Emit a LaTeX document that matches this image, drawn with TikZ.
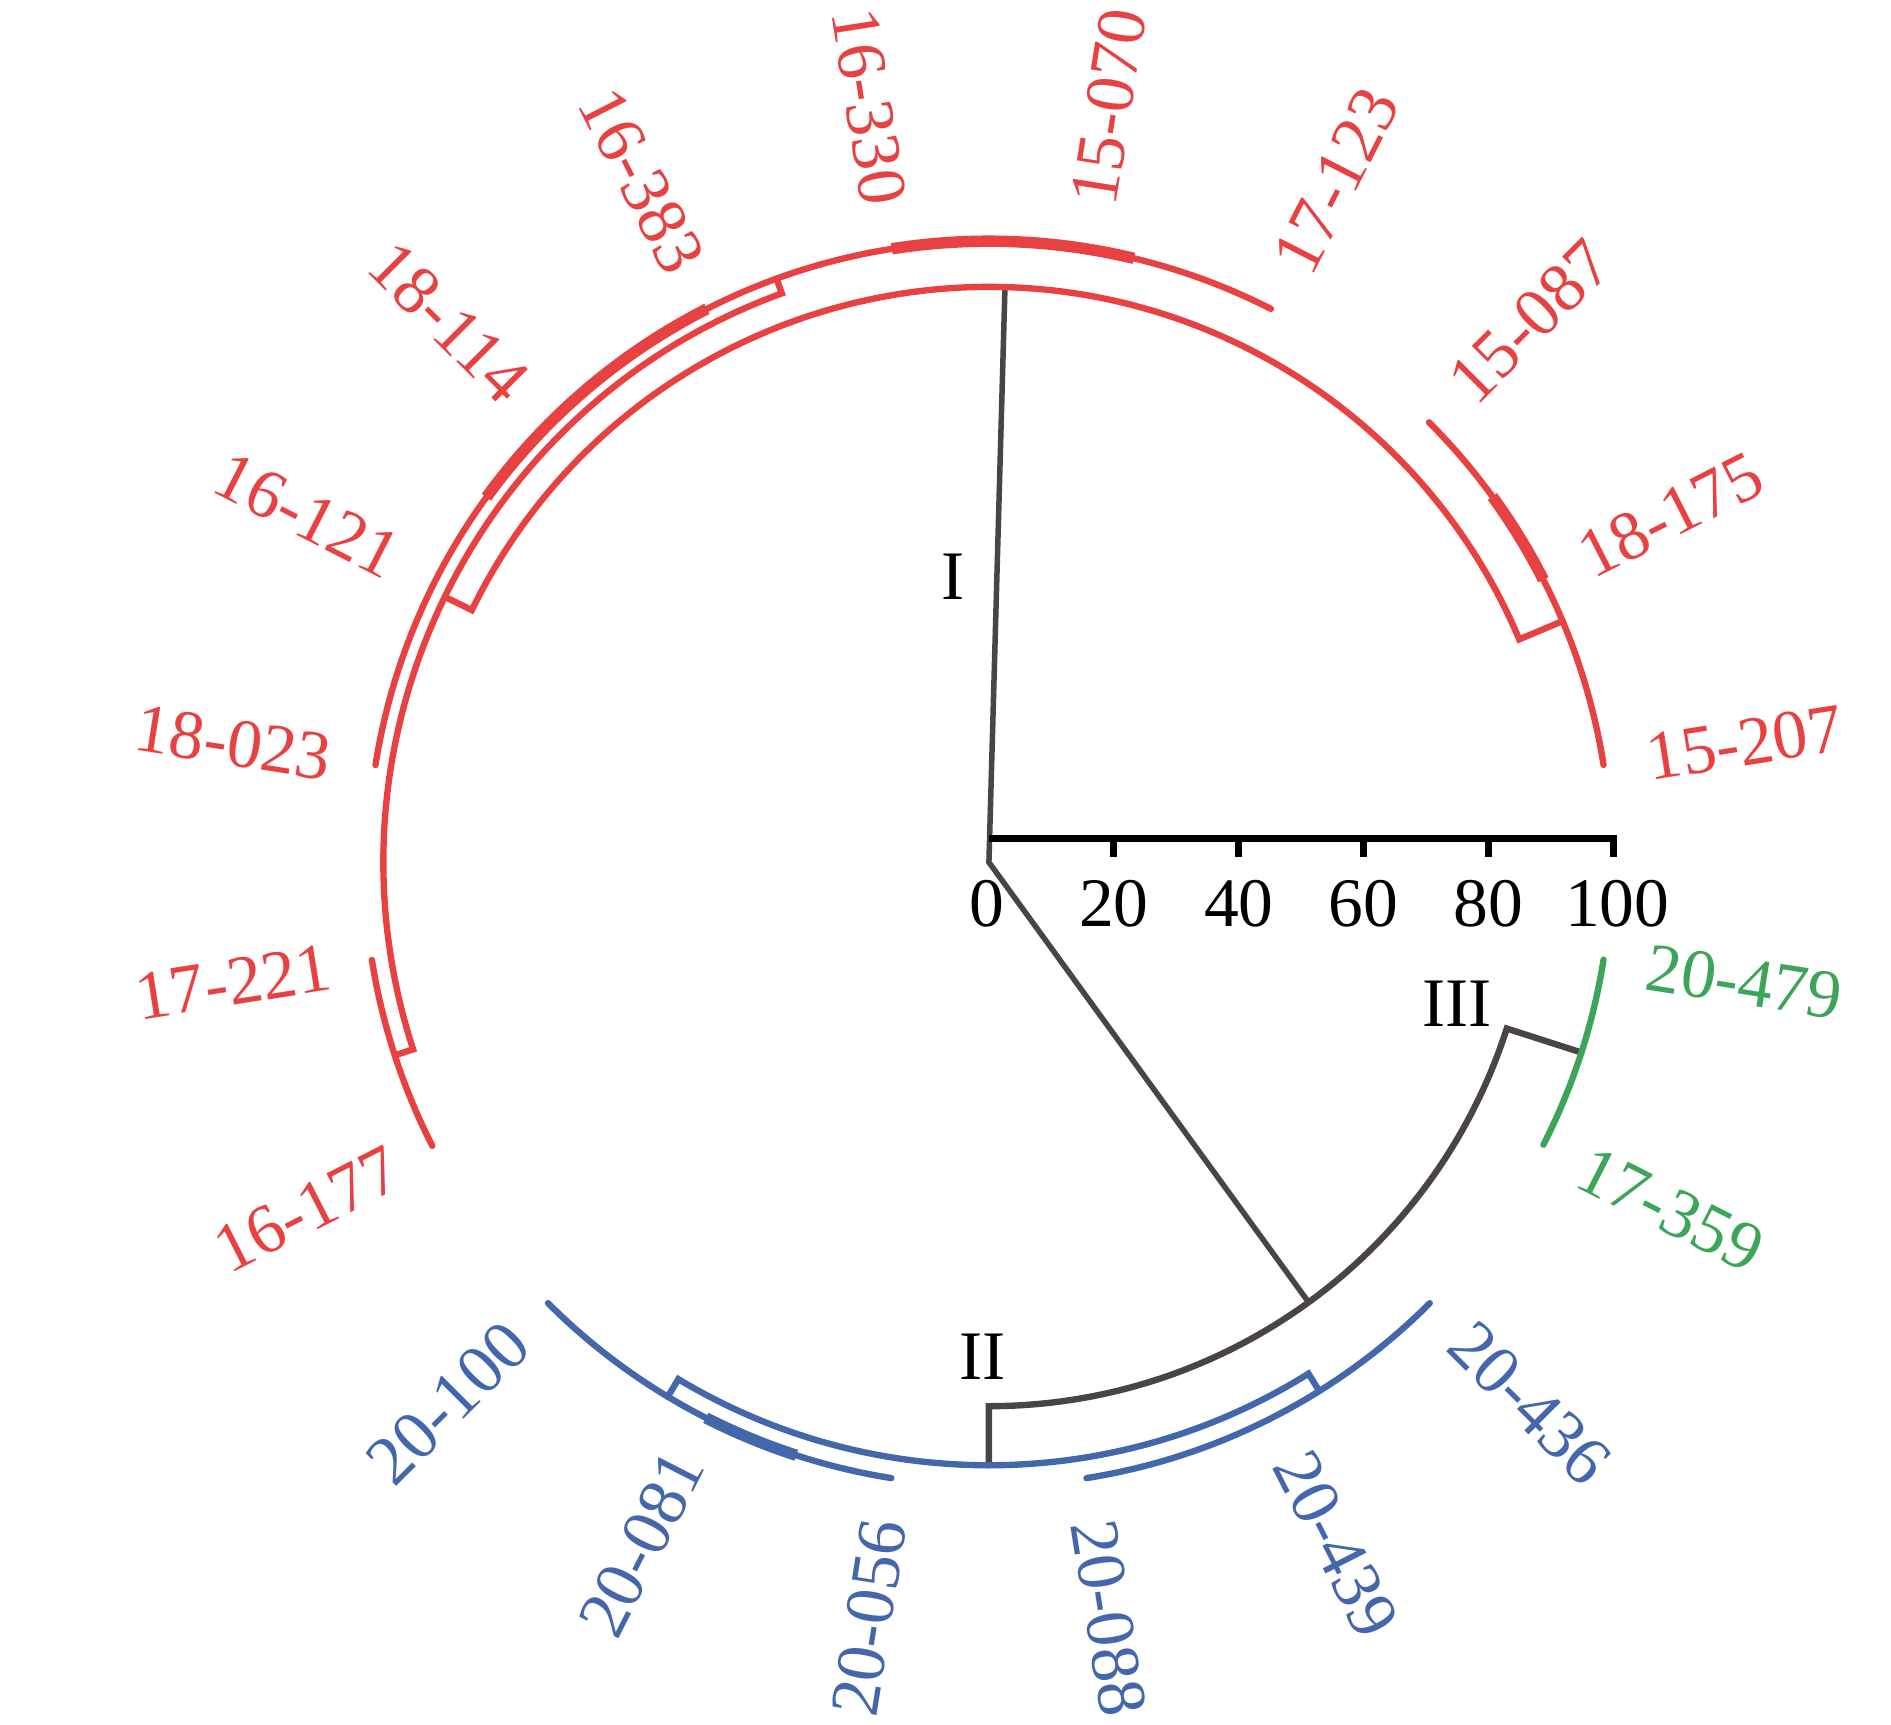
\documentclass[tikz,border=0pt]{standalone}
\usepackage{fontspec}
\setmainfont{Liberation Serif}

\definecolor{clred}{RGB}{232,65,66}
\definecolor{clblue}{RGB}{68,102,170}
\definecolor{clgreen}{RGB}{60,165,90}
\definecolor{clgray}{RGB}{74,69,67}
\newcommand{\labfont}{\fontsize{16.4}{19}\selectfont}

\begin{document}
\begin{tikzpicture}[
  branch/.style={line width=1.5pt, line cap=round},
  fused/.style={line width=2.7pt, line cap=butt},
  leaf/.style={inner sep=0pt, font=\labfont},
  leafR/.style={leaf, anchor=west},
  leafL/.style={leaf, anchor=east},
  scalebar/.style={line width=1.7pt},
  scalenum/.style={inner sep=0pt, font=\labfont},
  roman/.style={inner sep=0pt, font=\labfont}
]
\useasboundingbox (-8.20,-7.15) rectangle (7.48,7.15);

% tree nodes
\coordinate (root) at (0,0);
\coordinate (nI) at (88.4:4.77);
\coordinate (nX) at (-54:4.51);

% root and clusters II, III
\draw[branch, clgray, line width=1.3pt, line cap=butt] (nI) -- (root) -- (nX);
\draw[branch, clgray] (-90:5.00) -- (-90:4.51) arc[start angle=-90, end angle=-17.8, radius=4.51] -- (-17.8:5.16);

% cluster I
\draw[branch, clred] (154:5.02) -- (154:4.77) arc[start angle=154, end angle=22.8, radius=4.77] -- (22.8:5.16);
\draw[branch, clred] (45:5.16) arc[start angle=45, end angle=9, radius=5.16];
\draw[fused, clred] (36:5.16) arc[start angle=36, end angle=27, radius=5.16];
\draw[branch, clred] (110:5.15) -- (110:5.02) arc[start angle=110, end angle=198, radius=5.02] -- (198:5.18);
\draw[branch, clred] (63:5.15) arc[start angle=63, end angle=171, radius=5.15];
\draw[fused, clred] (76.5:5.15) arc[start angle=76.5, end angle=99, radius=5.15];
\draw[fused, clred] (117:5.15) arc[start angle=117, end angle=144, radius=5.15];
\draw[branch, clred] (189:5.18) arc[start angle=189, end angle=207, radius=5.18];

% cluster II
\draw[branch, clblue] (-121:5.17) -- (-121:5.00) arc[start angle=-121, end angle=-58, radius=5.00] -- (-58:5.17);
\draw[branch, clblue] (-135:5.17) arc[start angle=-135, end angle=-99, radius=5.17];
\draw[fused, clblue] (-117:5.17) arc[start angle=-117, end angle=-108, radius=5.17];
\draw[branch, clblue] (-81:5.17) arc[start angle=-81, end angle=-45, radius=5.17];

% cluster III
\draw[branch, clgreen] (-9:5.16) arc[start angle=-9, end angle=-27, radius=5.16];

% leaf labels
\node[leafR, rotate=9, text=clred] (l15207) at (9:5.52) {15-207};
\node[leafR, rotate=27, text=clred] (l18175) at (27:5.52) {18-175};
\node[leafR, rotate=45, text=clred] (l15087) at (45:5.52) {15-087};
\node[leafR, rotate=63, text=clred] (l17123) at (63:5.52) {17-123};
\node[leafR, rotate=81, text=clred] (l15070) at (81:5.52) {15-070};
\node[leafL, rotate=-81, text=clred] (l16330) at (99:5.52) {16-330};
\node[leafL, rotate=-63, text=clred] (l16383) at (117:5.52) {16-383};
\node[leafL, rotate=-45, text=clred] (l18114) at (135:5.52) {18-114};
\node[leafL, rotate=-27, text=clred] (l16121) at (153:5.52) {16-121};
\node[leafL, rotate=-9, text=clred] (l18023) at (171:5.52) {18-023};
\node[leafL, rotate=9, text=clred] (l17221) at (189:5.52) {17-221};
\node[leafL, rotate=27, text=clred] (l16177) at (207:5.52) {16-177};
\node[leafL, rotate=45, text=clblue] (l20100) at (225:5.52) {20-100};
\node[leafL, rotate=63, text=clblue] (l20081) at (243:5.52) {20-081};
\node[leafL, rotate=81, text=clblue] (l20056) at (261:5.52) {20-056};
\node[leafR, rotate=-81, text=clblue] (l20088) at (-81:5.52) {20-088};
\node[leafR, rotate=-63, text=clblue] (l20439) at (-63:5.52) {20-439};
\node[leafR, rotate=-45, text=clblue] (l20436) at (-45:5.52) {20-436};
\node[leafR, rotate=-27, text=clgreen] (l17359) at (-27:5.52) {17-359};
\node[leafR, rotate=-9, text=clgreen] (l20479) at (-9:5.52) {20-479};

% cluster names
\node[roman] (rI) at (-0.30,2.37) {I};
\node[roman] (rII) at (-0.05,-4.10) {II};
\node[roman] (rIII) at (3.88,-1.17) {III};

% scale
\draw[scalebar] (0,0.20) -- (5.18,0.20);
\draw[scalebar] (1.036,0.20) -- (1.036,0.04);
\draw[scalebar] (2.072,0.20) -- (2.072,0.04);
\draw[scalebar] (3.108,0.20) -- (3.108,0.04);
\draw[scalebar] (4.144,0.20) -- (4.144,0.04);
\draw[scalebar] (5.18,0.23) -- (5.18,0.04);
\node[scalenum] (s0) at (-0.02,-0.34) {0};
\node[scalenum] (s20) at (1.036,-0.34) {20};
\node[scalenum] (s40) at (2.072,-0.34) {40};
\node[scalenum] (s60) at (3.108,-0.34) {60};
\node[scalenum] (s80) at (4.144,-0.34) {80};
\node[scalenum] (s100) at (5.21,-0.34) {100};
\end{tikzpicture}
\end{document}
